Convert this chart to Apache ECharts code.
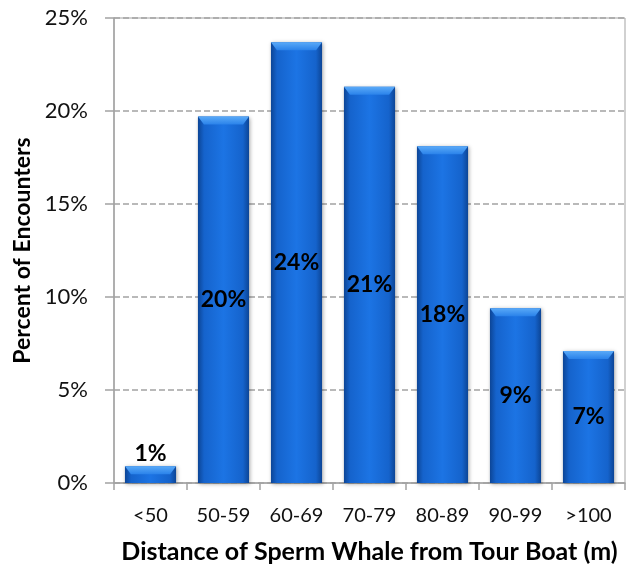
<!DOCTYPE html>
<html>
<head>
<meta charset="utf-8">
<script src="https://cdn.jsdelivr.net/npm/echarts@6/dist/echarts.min.js"></script>
<style>
  html, body { margin: 0; padding: 0; background: #fff; }
  #chart { width: 632px; height: 566px; }
</style>
</head>
<body>
<div id="chart"></div>
<script>
// Distance bins and share of encounters (%)
const categories = ['<50', '50-59', '60-69', '70-79', '80-89', '90-99', '>100'];
const percents = [0.9, 19.7, 23.7, 21.3, 18.1, 9.4, 7.1];
const yTicks = [0, 5, 10, 15, 20, 25];

const FONT = 'Lato, "Open Sans", sans-serif';
const AXIS_GRAY = '#a3a3a3';

const bodyFill = new echarts.graphic.LinearGradient(0, 0, 1, 0, [
  { offset: 0, color: '#0c4596' },
  { offset: 0.12, color: '#1563cc' },
  { offset: 0.5, color: '#1c74e4' },
  { offset: 0.88, color: '#1563cc' },
  { offset: 1, color: '#0c4596' }
]);

const barData = percents.map(function (v) {
  const small = v < 3;
  return {
    value: v,
    label: {
      position: small ? 'top' : 'inside',
      distance: small ? 1 : 5
    }
  };
});

const chart = echarts.init(document.getElementById('chart'), null, { renderer: 'canvas' });

chart.setOption({
  animation: false,
  backgroundColor: '#ffffff',
  grid: {
    left: 114, right: 7, top: 18, bottom: 83,
    outerBoundsMode: 'none',
    containLabel: false,
    show: true, borderColor: AXIS_GRAY, borderWidth: 1
  },
  xAxis: {
    type: 'category',
    data: categories,
    axisLine: { lineStyle: { color: AXIS_GRAY, width: 1.5 } },
    axisTick: { show: true, alignWithLabel: false, length: 7, lineStyle: { color: AXIS_GRAY, width: 1.5 } },
    axisLabel: { interval: 0, color: '#111', fontFamily: FONT, fontSize: 20, margin: 23 },
    name: 'Distance of Sperm Whale from Tour Boat (m)',
    nameLocation: 'middle',
    nameGap: 56,
    nameTextStyle: { color: '#000', fontFamily: FONT, fontSize: 25, fontWeight: 'bold' }
  },
  yAxis: {
    type: 'value',
    min: 0, max: 25, interval: 5,
    axisLine: { show: true, lineStyle: { color: AXIS_GRAY, width: 1.5 } },
    axisTick: { show: true, inside: false, length: 9, lineStyle: { color: AXIS_GRAY, width: 1.5 } },
    axisLabel: {
      color: '#111', fontFamily: FONT, fontSize: 22, margin: 26,
      formatter: function (v) { return yTicks.indexOf(v) >= 0 ? v + '%' : ''; }
    },
    splitLine: { show: true, lineStyle: { color: AXIS_GRAY, type: [6, 3], width: 1.5 } },
    name: 'Percent of Encounters',
    nameLocation: 'middle',
    nameGap: 70,
    nameTextStyle: { color: '#000', fontFamily: FONT, fontSize: 23, fontWeight: 'bold' }
  },
  series: [
    {
      type: 'bar',
      data: barData,
      barCategoryGap: '30%',
      itemStyle: {
        color: bodyFill,
        shadowColor: 'rgba(0,0,0,0.35)',
        shadowBlur: 4,
        shadowOffsetX: 1,
        shadowOffsetY: 1
      },
      label: {
        show: true,
        color: '#000',
        fontFamily: FONT,
        fontSize: 23,
        fontWeight: 'bold',
        formatter: function (p) { return Math.round(p.value) + '%'; }
      },
      z: 2
    },
    {
      // bevelled highlight along the top edge of each bar
      type: 'custom',
      data: percents.map(function (v, i) { return [i, v]; }),
      z: 3,
      silent: true,
      renderItem: function (params, api) {
        const top = api.coord([api.value(0), api.value(1)]);
        const base = api.coord([api.value(0), 0]);
        const w = api.size([1, 0])[0] * 0.7;
        const h = Math.min(8, base[1] - top[1]);
        const x0 = top[0] - w / 2;
        const x1 = top[0] + w / 2;
        const inset = 6;
        return {
          type: 'polygon',
          shape: {
            points: [
              [x0, top[1]], [x1, top[1]],
              [x1 - inset, top[1] + h], [x0 + inset, top[1] + h]
            ]
          },
          style: {
            fill: new echarts.graphic.LinearGradient(0, 0, 0, 1, [
              { offset: 0, color: '#5aaaf8' },
              { offset: 1, color: '#2a82ea' }
            ])
          }
        };
      }
    }
  ]
});
</script>
</body>
</html>
